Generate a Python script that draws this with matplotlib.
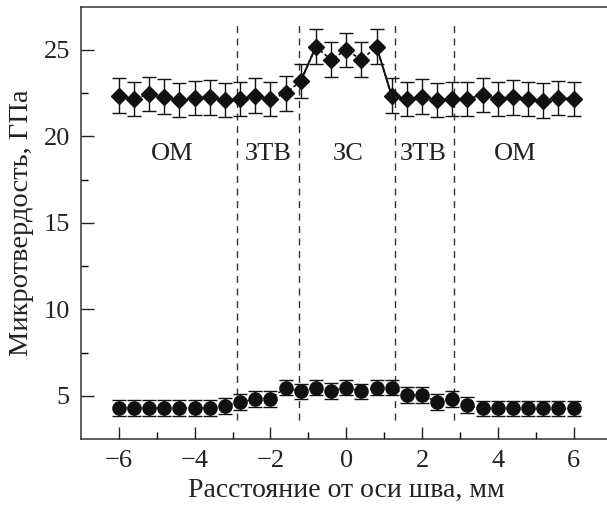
import numpy as np
import matplotlib
matplotlib.use("Agg")
import matplotlib.pyplot as plt

# distance from weld axis, mm (step 0.4)
x = np.round(np.arange(-6.0, 6.01, 0.4), 1)

# diamonds - upper series, GPa
hv_top = [22.35, 22.16, 22.45, 22.29, 22.10, 22.22, 22.25, 22.10, 22.16, 22.35, 22.16, 22.48,
          23.20, 25.18, 24.43, 25.00, 24.43, 25.18,
          22.35, 22.16, 22.29, 22.10, 22.16, 22.16, 22.40, 22.16, 22.25, 22.16, 22.06, 22.22, 22.16]
err_top = 1.0

# circles - lower series, GPa
hv_bot = [4.29, 4.29, 4.29, 4.29, 4.29, 4.29, 4.29, 4.42, 4.63, 4.83, 4.83, 5.48,
          5.25, 5.48, 5.28, 5.48, 5.25, 5.48,
          5.48, 5.04, 5.04, 4.65, 4.81, 4.46, 4.27, 4.27, 4.27, 4.27, 4.27, 4.27, 4.27]
err_bot = 0.45

zone_bounds = [-2.87, -1.25, 1.30, 2.85]
zone_names = ["ОМ", "ЗТВ", "ЗС", "ЗТВ", "ОМ"]
zone_x = [-4.6, -2.06, 0.05, 2.03, 4.46]

plt.rcParams['font.family'] = ['Liberation Serif', 'DejaVu Serif']
fs = 19

fig = plt.figure(figsize=(6.07, 5.07), dpi=100)
ax = fig.add_axes([0.1334, 0.134, 0.874, 0.853])

for b in zone_bounds:
    ax.plot([b, b], [3.6, 26.7], color='#333333', lw=1.0, ls=(0, (5, 4)))

ax.errorbar(x, hv_top, yerr=err_top, fmt='D', color='#111111', ms=8, capsize=5,
            elinewidth=1.0, capthick=1.0, zorder=3)
ax.plot(x, hv_top, color='#111111', lw=1.2, ls=(0, (2, 1.5)), zorder=2)
# steep segments at fusion zone look solid
ax.plot(x[12:14], hv_top[12:14], color='#111111', lw=1.4, zorder=2)
ax.plot(x[17:19], hv_top[17:19], color='#111111', lw=1.4, zorder=2)

ax.errorbar(x, hv_bot, yerr=err_bot, fmt='o', color='#111111', ms=9.5, capsize=5,
            elinewidth=1.0, capthick=1.0, zorder=3)
ax.plot(x, hv_bot, color='#111111', lw=1.2, ls=(0, (1, 1.5)), zorder=2)

for name, zx in zip(zone_names, zone_x):
    ax.text(zx, 19.0, name, ha='center', va='center', fontsize=fs, color='#222222')

ax.set_xlim(-7, 7)
ax.set_ylim(2.5, 27.5)
ax.set_xticks(np.arange(-6, 7, 2))
ax.set_xticklabels(['\u22126', '\u22124', '\u22122', '0', '2', '4', '6'])
ax.set_xticks(np.arange(-5, 7, 2), minor=True)
ax.set_yticks([5, 10, 15, 20, 25])
ax.set_yticks(np.arange(7.5, 27, 5), minor=True)
ax.tick_params(which='major', direction='in', length=9, width=1, labelsize=fs, pad=8,
               colors='#222222')
ax.tick_params(which='minor', direction='in', length=5, width=1)
for s in ax.spines.values():
    s.set_linewidth(1.1)
    s.set_color('#333333')

ax.set_xlabel('Расстояние от оси шва, мм', fontsize=20, color='#222222', labelpad=4)
ax.set_ylabel('Микротвердость, ГПа', fontsize=20.5, color='#222222', labelpad=7)

fig.savefig('out.png', dpi=100)
